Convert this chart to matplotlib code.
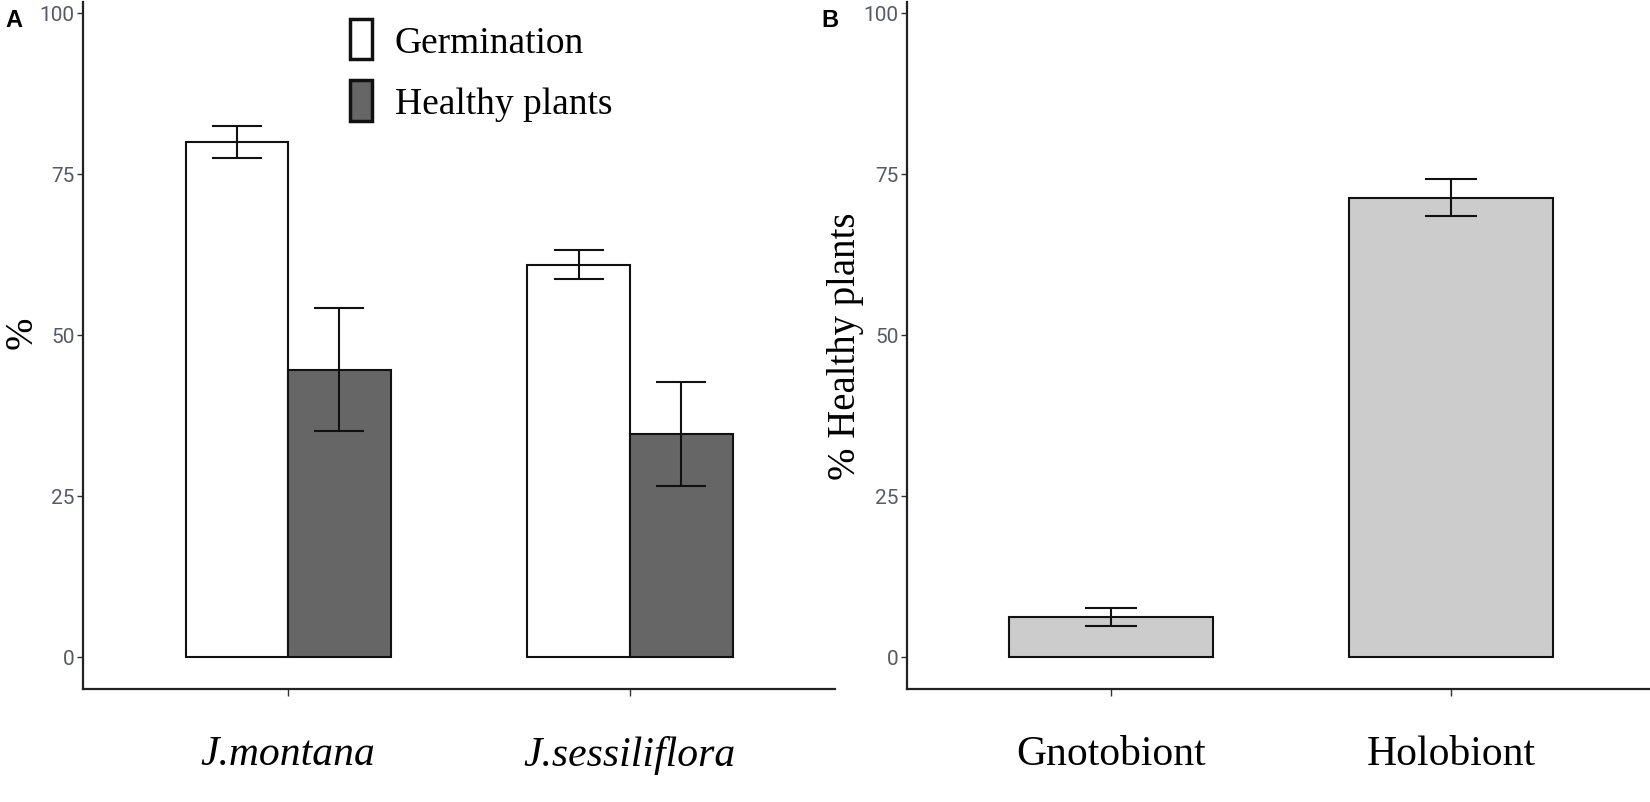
import numpy as np
import matplotlib.pyplot as plt

species = ['J.montana', 'J.sessiliflora']
germination = [80.0, 60.9]
germination_err = [2.5, 2.3]
healthy = [44.6, 34.6]
healthy_err = [9.5, 8.1]

groups = ['Gnotobiont', 'Holobiont']
healthy_b = [6.2, 71.3]
healthy_b_err = [1.4, 2.9]

yticks = [0, 25, 50, 75, 100]

fig = plt.figure(figsize=(16.5, 8.03), dpi=100)
ax1 = fig.add_axes([0.0503, 0.1407, 0.4558, 0.8556])
ax2 = fig.add_axes([0.5497, 0.1407, 0.4503, 0.8556])

tick_font = ['Liberation Sans Narrow', 'Roboto', 'DejaVu Sans']
serif = 'Liberation Serif'


def style_axes(ax):
    for s in ['top', 'right']:
        ax.spines[s].set_visible(False)
    for s in ['left', 'bottom']:
        ax.spines[s].set_linewidth(1.6)
        ax.spines[s].set_color('#222222')
    ax.set_ylim(-5.0, 101.7)
    ax.set_yticks(yticks)
    ax.set_yticklabels([str(t) for t in yticks], family=tick_font,
                       fontsize=15, color='#555a66')
    ax.tick_params(axis='y', length=4, width=1, color='#333333', pad=2)
    ax.tick_params(axis='x', length=5, width=1, color='#333333', pad=28)


# panel A
x = np.arange(1, len(species) + 1)
w = 0.3
ax1.bar(x - w / 2, germination, w, color='white', edgecolor='#111111',
        linewidth=1.5, label='Germination')
ax1.bar(x + w / 2, healthy, w, color='#666666', edgecolor='#111111',
        linewidth=1.5, label='Healthy plants')
ax1.errorbar(x - w / 2, germination, yerr=germination_err, fmt='none',
             ecolor='#111111', elinewidth=1.5, capsize=18, capthick=1.5)
ax1.errorbar(x + w / 2, healthy, yerr=healthy_err, fmt='none',
             ecolor='#111111', elinewidth=1.5, capsize=18, capthick=1.5)
ax1.set_xlim(0.4, 2.6)
style_axes(ax1)
ax1.set_xticks(x)
ax1.set_xticklabels(species, family=serif, style='italic', fontsize=30)
ax1.set_ylabel('%', family=serif, fontsize=28)
ax1.yaxis.set_label_coords(-0.056, 0.52)
leg = ax1.legend(loc='upper left', bbox_to_anchor=(0.31, 1.025), frameon=False,
                 prop={'family': serif, 'size': 27}, handlelength=0.6,
                 handleheight=1.3, handletextpad=0.6, labelspacing=0.55)
for p in leg.get_patches():
    p.set_linewidth(2.5)

# panel B
xb = np.arange(1, len(groups) + 1)
ax2.bar(xb, healthy_b, 0.6, color='#cccccc', edgecolor='#111111', linewidth=1.5)
ax2.errorbar(xb, healthy_b, yerr=healthy_b_err, fmt='none', ecolor='#111111',
             elinewidth=1.5, capsize=19, capthick=1.5)
ax2.set_xlim(0.4, 2.585)
style_axes(ax2)
ax2.set_xticks(xb)
ax2.set_xticklabels(groups, family=serif, fontsize=30)
ax2.set_ylabel('% Healthy plants', family=serif, fontsize=28)
ax2.yaxis.set_label_coords(-0.058, 0.5)

fig.text(0.003, 0.975, 'A', fontsize=17, fontweight='bold', family='Liberation Sans',
         va='center')
fig.text(0.498, 0.975, 'B', fontsize=17, fontweight='bold', family='Liberation Sans',
         va='center')

fig.savefig('out.png', dpi=100)
